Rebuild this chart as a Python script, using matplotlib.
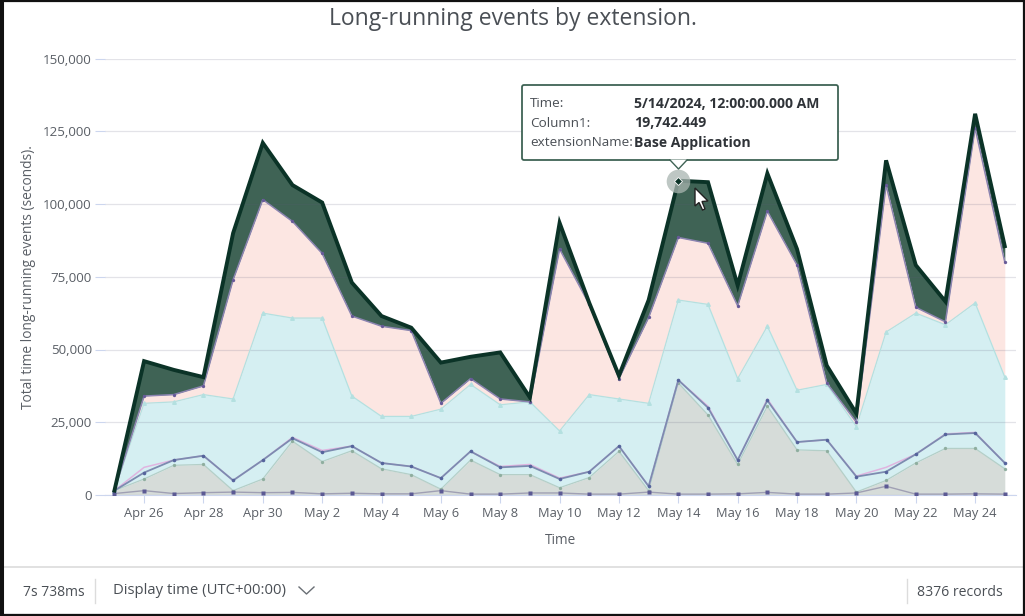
import datetime as dt

import matplotlib
matplotlib.use("Agg")
import matplotlib.dates as mdates
import matplotlib.pyplot as plt
from matplotlib.patches import Polygon, Rectangle, FancyBboxPatch

# ----------------------------
# Data (stacked tops)
# ----------------------------
start_day = dt.date(2024, 4, 25)
days = [start_day + dt.timedelta(days=i) for i in range(31)]

top_green = [1500, 46000, 43000, 40500, 90000, 121000, 106500, 100500, 73000, 61500, 57500,
             45500, 47500, 49000, 33500, 93500, 66000, 41000, 67000, 108000, 107500,
             72000, 110500, 84500, 44500, 28000, 115000, 79000, 66500, 131000, 85500]
top_pink = [1500, 34000, 34500, 37500, 74000, 101500, 94000, 83000, 61500, 58000, 56500,
            31500, 40000, 33000, 32000, 84500, 65500, 40000, 61000, 88500, 86500,
            65000, 97500, 79000, 38500, 25000, 106500, 64500, 59500, 126000, 80000]
top_teal = [1500, 31500, 32000, 34500, 33000, 62500, 60800, 60800, 34000, 27000, 27000,
            29500, 38000, 31000, 32000, 22000, 34500, 33000, 31500, 67000, 65500,
            40000, 58000, 36000, 38000, 23500, 56000, 62500, 58500, 66000, 40500]
top_lilac = [1500, 9500, 12000, 13500, 5000, 12000, 19800, 15300, 16800, 11000, 9800,
             5800, 15000, 9800, 10500, 5800, 8000, 16800, 3000, 39500, 30500,
             12000, 33000, 18200, 19000, 6500, 9500, 14000, 21000, 21500, 11000]
top_blue = [1500, 7700, 12000, 13500, 5000, 12000, 19500, 14700, 16800, 11000, 9800,
            5800, 15000, 9500, 10000, 5500, 8000, 16800, 3000, 39500, 30000,
            12000, 32500, 18200, 19000, 6300, 8000, 14000, 20800, 21300, 11000]
top_grey = [1500, 5500, 10200, 10500, 1500, 5500, 18500, 11500, 15200, 9000, 7000,
            2000, 12000, 7000, 7000, 2500, 6000, 15000, 1500, 38500, 27500,
            10500, 30500, 15500, 15200, 1000, 5000, 11000, 16000, 16000, 9000]
top_low = [500, 1500, 500, 800, 1000, 800, 900, 400, 600, 400, 400,
           1500, 300, 300, 700, 700, 300, 300, 1000, 300, 300,
           400, 900, 300, 300, 700, 3000, 300, 300, 400, 300]

y_ticks = [0, 25000, 50000, 75000, 100000, 125000, 150000]

tooltip_keys = ["Time:", "Column1:", "extensionName:"]
tooltip_vals = ["5/14/2024, 12:00:00.000 AM", "19,742.449", "Base Application"]
hover_day = dt.date(2024, 5, 14)
hover_value = 108000

W, H = 1025, 616
TEXT = "#5a5f66"

plt.rcParams["font.family"] = ["Open Sans", "DejaVu Sans"]

fig = plt.figure(figsize=(W / 100, H / 100), dpi=100, facecolor="white")


def px_axes(x0, y0, x1, y1):
    # pixel box, y measured from the top of the image
    return fig.add_axes([x0 / W, 1 - y1 / H, (x1 - x0) / W, (y1 - y0) / H])


# ----------------------------
# Main chart
# ----------------------------
ax = px_axes(105, 58.5, 1016, 495)
fills = [
    (top_pink, top_green, "#3f6355"),
    (top_teal, top_pink, "#fce6e2"),
    (top_grey, top_teal, "#d5eff2"),
    ([0] * 31, top_grey, "#d6dcd9"),
]
for low, high, color in fills:
    ax.fill_between(days, low, high, color=color, lw=0, zorder=1)

ax.plot(days, top_teal, color="#b4e0e0", lw=0.9, marker="^", ms=2.6, zorder=3)
ax.plot(days, top_grey, color="#b4cfc8", lw=0.9, marker="o", ms=2.4, mfc="#8fae9f", mec="none", zorder=3)
ax.plot(days, top_low, color="#a0a0b4", lw=1, marker="s", ms=2.6, mfc="#5c5a94", mec="none", zorder=4)
ax.plot(days, top_lilac, color="#e0b4e0", lw=1.1, zorder=4)
ax.plot(days, top_blue, color="#7d8bb0", lw=1.3, marker="o", ms=2.6, mfc="#56649c", mec="none", zorder=4)
ax.plot(days, top_pink, color="#8b84b0", lw=1.1, marker="o", ms=2.4, mfc="#675a98", mec="none", zorder=4)
ax.plot(days, top_green, color="#0b3327", lw=2.8, solid_joinstyle="miter", zorder=5)

px_per_day = 29.68
first_px = 114.4
x_left = mdates.date2num(start_day) - (first_px - 105) / px_per_day
ax.set_xlim(x_left, x_left + (1016 - 105) / px_per_day)
ax.set_ylim(0, 150000)

ax.xaxis.set_major_locator(mdates.DayLocator(bymonthday=[26, 28, 30, 2, 4, 6, 8, 10, 12, 14, 16, 18, 20, 22, 24]))
ax.xaxis.set_major_formatter(mdates.DateFormatter("%b %-d"))
ax.set_yticks(y_ticks)
ax.set_yticklabels([f"{v:,}" for v in y_ticks])
ax.tick_params(axis="y", length=7.5, width=0.8, color="#ccd6ee", labelsize=9.6, labelcolor=TEXT, pad=2)
ax.tick_params(axis="x", length=6, width=0.8, color="#ccd6ee", labelsize=9.3, labelcolor=TEXT, pad=3)
ax.grid(axis="y", color="#5a5a78", lw=0.9, alpha=0.17)
ax.set_axisbelow("line")
for side in ["top", "right", "left"]:
    ax.spines[side].set_visible(False)
ax.spines["bottom"].set_color("#ccd6ee")
ax.patch.set_alpha(0)
ax.set_xlabel("Time", fontsize=9.8, color=TEXT, labelpad=9)
ax.set_ylabel("Total time long-running events (seconds).", fontsize=9.9, color=TEXT, labelpad=5)

# hover marker
ax.plot([hover_day], [hover_value], marker="o", ms=17, color="#a9b5b0", alpha=0.75, mec="none", zorder=6, clip_on=False)
ax.plot([hover_day], [hover_value], marker="D", ms=4.5, color="#0b3327", mec="white", mew=0.6, zorder=7)

# ----------------------------
# Overlay: title, tooltip, footer, frame
# ----------------------------
ov = fig.add_axes([0, 0, 1, 1], zorder=10)
ov.set_xlim(0, W)
ov.set_ylim(H, 0)
ov.axis("off")

ov.text(512.5, 19, "Long-running events by extension.", ha="center", va="center", fontsize=16.5, color="#4a4f55")

# tooltip
ov.add_patch(FancyBboxPatch((522, 85), 316, 75, boxstyle="round,pad=0,rounding_size=2",
                            fc="white", ec="#3f6355", lw=1.3, zorder=11))
ov.add_patch(Polygon([[670, 159.5], [687, 159.5], [678.5, 169]], closed=True, fc="white", ec="none", zorder=12))
ov.plot([670, 678.5, 687], [160, 169, 160], color="#3f6355", lw=1, zorder=12)
for i, (key, val) in enumerate(zip(tooltip_keys, tooltip_vals)):
    y = 103.5 + i * 19.7
    ov.text(530, y, key, ha="left", va="center", fontsize=9.7, color="#4a4f55", zorder=13)
    ov.text(634, y, val, ha="left", va="center", fontsize=10.1, fontweight="bold", color="#2f3338", zorder=13)

# mouse cursor
ov.add_patch(Polygon([[695, 188], [695, 206], [699, 202.5], [702.5, 210], [705, 209], [702, 201.5], [708, 201]],
                     closed=True, fc="white", ec="#222222", lw=1, zorder=14))

# footer
ov.plot([2, 1023], [567, 567], color="#dcdcdc", lw=1.2)
ov.plot([95, 95], [579, 603], color="#dcdcdc", lw=1)
ov.plot([907, 907], [579, 603], color="#dcdcdc", lw=1)
ov.text(23, 592, "7s 738ms", ha="left", va="center", fontsize=10, color="#4a4f55")
ov.text(113, 591, "Display time (UTC+00:00)", ha="left", va="center", fontsize=10.7, color="#4a4f55")
ov.plot([299, 306.5, 314], [587, 594, 587], color="#6a6f75", lw=1)
ov.text(1003, 592, "8376 records", ha="right", va="center", fontsize=10.1, color="#4a4f55")

# screenshot frame, heavier on the left and bottom
ov.add_patch(Rectangle((1, 0.5), W - 2, H - 1.5, fc="none", ec="#111111", lw=1.6, zorder=20))
ov.plot([1.5, 1.5], [0, H], color="#111111", lw=2.2, zorder=20)
ov.plot([0, W], [614.8, 614.8], color="#111111", lw=2.2, zorder=20)

fig.savefig("out.png", dpi=100)
